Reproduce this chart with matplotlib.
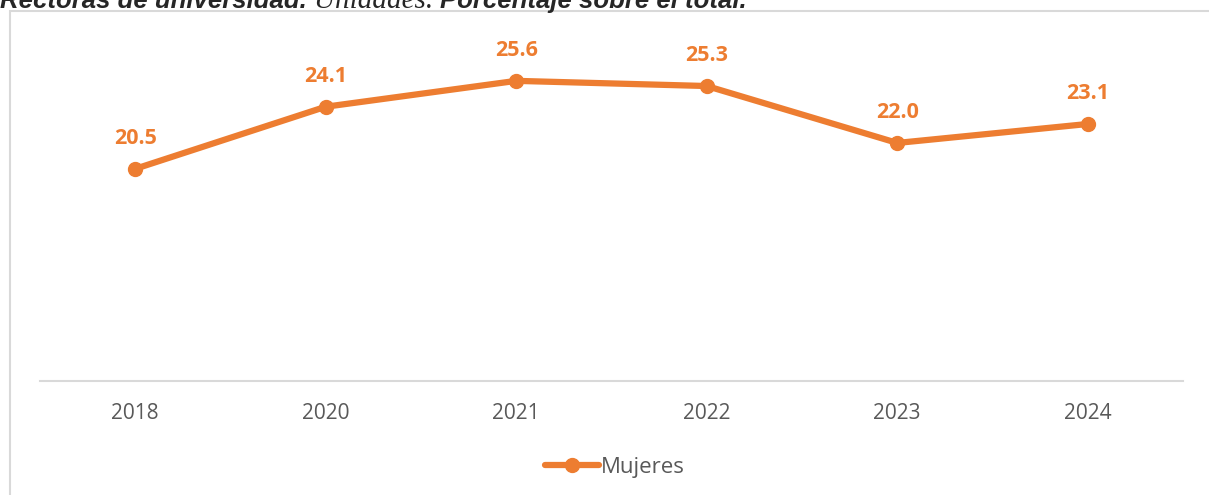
import matplotlib.pyplot as plt
from matplotlib.patches import Rectangle

# data
years = ["2018", "2020", "2021", "2022", "2023", "2024"]
mujeres = [20.5, 24.1, 25.6, 25.3, 22.0, 23.1]

orange = "#ED7D31"
grey_txt = "#595959"
grey_line = "#D9D9D9"

W, H = 1209, 495
fig = plt.figure(figsize=(W / 100, H / 100), dpi=100)

# title is cut off at the top edge of the image
base = 1 - 8 / H
t1 = fig.text(0.0, base, "Rectoras de universidad. ", fontsize=18.5, fontweight="bold",
              fontstyle="italic", color="#262626", family="Liberation Sans", va="baseline")
fig.canvas.draw()
t2 = fig.text(t1.get_window_extent().x1 / W, base, "Unidades. ", fontsize=21,
              fontstyle="italic", color="#262626", family="Liberation Serif", va="baseline")
fig.canvas.draw()
fig.text(t2.get_window_extent().x1 / W, base, "Porcentaje sobre el total.", fontsize=18.5,
         fontweight="bold", fontstyle="italic", color="#262626", family="Liberation Sans",
         va="baseline")

# chart frame
fig.patches.append(Rectangle((10 / W, -0.05), 1.1, 1 - 11 / H + 0.05, transform=fig.transFigure,
                             fill=False, edgecolor=grey_line, lw=1.5))

ax = fig.add_axes([40 / W, 1 - 381 / H, (1183 - 40) / W, (381 - 20) / H])
x = list(range(len(years)))
ax.plot(x, mujeres, color=orange, lw=4.5, marker="o", ms=10, label="Mujeres",
        solid_capstyle="round")
for xi, v in zip(x, mujeres):
    ax.annotate(f"{v:.1f}", (xi, v), xytext=(0, 22), textcoords="offset points",
                ha="center", va="center", color=orange, fontsize=15.5, fontweight="bold",
                family="Open Sans")

ax.set_xlim(-0.5, len(years) - 0.5)
ax.set_ylim(8.2, 8.2 + 361 / 17.25)
ax.set_xticks(x)
ax.set_xticklabels(years, fontsize=15, color=grey_txt, family="Open Sans")
ax.tick_params(axis="x", length=0, pad=16)
ax.set_yticks([])
for s in ["top", "right", "left"]:
    ax.spines[s].set_visible(False)
ax.spines["bottom"].set_color(grey_line)
ax.spines["bottom"].set_linewidth(1.5)

leg = fig.legend(loc="center", bbox_to_anchor=(615 / W, 1 - 467 / H), frameon=False,
                 prop={"family": "Open Sans", "size": 16}, handlelength=2.4,
                 handletextpad=0.1)
for t in leg.get_texts():
    t.set_color(grey_txt)

fig.savefig("out.png", dpi=100)
